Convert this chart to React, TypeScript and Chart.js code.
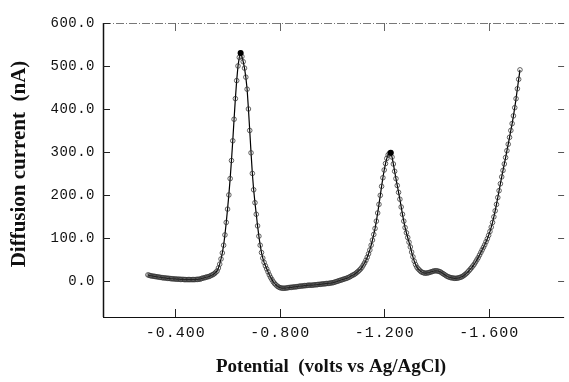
import React, { useEffect, useRef } from "react";
import { Chart, registerables } from "chart.js";

Chart.register(...registerables);

// Potential (V vs Ag/AgCl), 5 mV steps
const potentials = [
  -0.295, -0.300, -0.305, -0.310, -0.315, -0.320, -0.325, -0.330, -0.335, -0.340,
  -0.345, -0.350, -0.355, -0.360, -0.365, -0.370, -0.375, -0.380, -0.385, -0.390,
  -0.395, -0.400, -0.405, -0.410, -0.415, -0.420, -0.425, -0.430, -0.435, -0.440,
  -0.445, -0.450, -0.455, -0.460, -0.465, -0.470, -0.475, -0.480, -0.485, -0.490,
  -0.495, -0.500, -0.505, -0.510, -0.515, -0.520, -0.525, -0.530, -0.535, -0.540,
  -0.545, -0.550, -0.555, -0.560, -0.565, -0.570, -0.575, -0.580, -0.585, -0.590,
  -0.595, -0.600, -0.605, -0.610, -0.615, -0.620, -0.625, -0.630, -0.635, -0.640,
  -0.645, -0.650, -0.655, -0.660, -0.665, -0.670, -0.675, -0.680, -0.685, -0.690,
  -0.695, -0.700, -0.705, -0.710, -0.715, -0.720, -0.725, -0.730, -0.735, -0.740,
  -0.745, -0.750, -0.755, -0.760, -0.765, -0.770, -0.775, -0.780, -0.785, -0.790,
  -0.795, -0.800, -0.805, -0.810, -0.815, -0.820, -0.825, -0.830, -0.835, -0.840,
  -0.845, -0.850, -0.855, -0.860, -0.865, -0.870, -0.875, -0.880, -0.885, -0.890,
  -0.895, -0.900, -0.905, -0.910, -0.915, -0.920, -0.925, -0.930, -0.935, -0.940,
  -0.945, -0.950, -0.955, -0.960, -0.965, -0.970, -0.975, -0.980, -0.985, -0.990,
  -0.995, -1.000, -1.005, -1.010, -1.015, -1.020, -1.025, -1.030, -1.035, -1.040,
  -1.045, -1.050, -1.055, -1.060, -1.065, -1.070, -1.075, -1.080, -1.085, -1.090,
  -1.095, -1.100, -1.105, -1.110, -1.115, -1.120, -1.125, -1.130, -1.135, -1.140,
  -1.145, -1.150, -1.155, -1.160, -1.165, -1.170, -1.175, -1.180, -1.185, -1.190,
  -1.195, -1.200, -1.205, -1.210, -1.215, -1.220, -1.225, -1.230, -1.235, -1.240,
  -1.245, -1.250, -1.255, -1.260, -1.265, -1.270, -1.275, -1.280, -1.285, -1.290,
  -1.295, -1.300, -1.305, -1.310, -1.315, -1.320, -1.325, -1.330, -1.335, -1.340,
  -1.345, -1.350, -1.355, -1.360, -1.365, -1.370, -1.375, -1.380, -1.385, -1.390,
  -1.395, -1.400, -1.405, -1.410, -1.415, -1.420, -1.425, -1.430, -1.435, -1.440,
  -1.445, -1.450, -1.455, -1.460, -1.465, -1.470, -1.475, -1.480, -1.485, -1.490,
  -1.495, -1.500, -1.505, -1.510, -1.515, -1.520, -1.525, -1.530, -1.535, -1.540,
  -1.545, -1.550, -1.555, -1.560, -1.565, -1.570, -1.575, -1.580, -1.585, -1.590,
  -1.595, -1.600, -1.605, -1.610, -1.615, -1.620, -1.625, -1.630, -1.635, -1.640,
  -1.645, -1.650, -1.655, -1.660, -1.665, -1.670, -1.675, -1.680, -1.685, -1.690,
  -1.695, -1.700, -1.705, -1.710, -1.715, -1.720,
];

// Diffusion current (nA)
const currents = [
  14, 13, 12, 11.5, 11, 10.5, 10, 9.5, 9, 8.5,
  8, 7.5, 7, 7, 6.5, 6, 6, 5.5, 5, 5,
  4.5, 4.5, 4, 4, 4, 3.5, 3.5, 3.5, 3, 3,
  3, 3, 3, 3, 3, 3, 3, 3.5, 3.5, 4,
  4, 5.5, 6.5, 7, 8, 9, 9.5, 10.5, 12, 13.5,
  15, 17, 20, 23, 30, 39, 51, 65, 83, 107,
  136, 167, 200, 238, 280, 326, 376, 424, 466, 500,
  520, 530, 522, 510, 495, 474, 446, 400, 350, 298,
  250, 212, 182, 155, 128, 104, 83, 66, 53, 43,
  35, 28, 21, 14, 8, 3, -2, -6, -9, -12,
  -14, -15.5, -16.5, -17, -17, -17, -16.5, -16, -15.5, -15,
  -15, -14.5, -14, -14, -13.5, -13, -12.5, -12, -12, -11.5,
  -11, -11, -10.5, -10, -10, -10, -10, -9.5, -9, -9,
  -8.5, -8, -8, -7.5, -7, -7, -6.5, -6, -6, -5.5,
  -5, -4.5, -4, -3, -2, -1, 0, 1, 2, 3,
  4, 5, 6, 7, 8.5, 10, 12, 13.5, 15, 17,
  19.5, 22, 25, 28, 32, 37, 42, 48, 55, 63,
  72, 83, 95, 108, 122, 139, 158, 178, 199, 220,
  240, 258, 273, 285, 293, 297, 298, 288, 272, 255,
  238, 222, 206, 190, 172, 155, 139, 124, 112, 101,
  90, 79, 67, 56, 46, 38, 32, 28, 25, 22,
  20, 19, 18, 18, 18.5, 19, 20, 21, 22, 23,
  23.5, 23.5, 23, 22, 21, 19, 17, 15, 13, 11,
  9.5, 8.5, 7.5, 7, 6.5, 6, 6, 6.5, 7, 8,
  9, 10.5, 12.5, 15, 17.5, 20.5, 24, 27.5, 31, 35,
  39, 44, 49, 54, 60, 66, 72, 78, 84, 91,
  98, 106, 115, 125, 136, 149, 163, 178, 194, 210,
  226, 242, 257, 272, 287, 303, 318, 334, 350, 366,
  384, 403, 424, 447, 469, 491,
];

const peakPotentials = [-0.65, -1.225];
const peakCurrents = [530, 298];

const xTickValues = [-0.4, -0.8, -1.2, -1.6];
const xTickLabels = ["-0.400", "-0.800", "-1.200", "-1.600"];
const yTickValues = [0, 100, 200, 300, 400, 500, 600];
const yTickLabels = ["0.0", "100.0", "200.0", "300.0", "400.0", "500.0", "600.0"];

const xTitle = "Potential  (volts vs Ag/AgCl)";
const yTitle = "Diffusion current  (nA)";

const framePlugin = {
  id: "frame",
  beforeDatasetsDraw(chart: any) {
    const { ctx, chartArea } = chart;
    const { left, right, top, bottom } = chartArea;
    const xs = chart.scales.x;
    const ys = chart.scales.y;
    ctx.save();
    // top dash-dot border
    ctx.strokeStyle = "#777";
    ctx.lineWidth = 1;
    ctx.setLineDash([8, 2, 1, 2]);
    ctx.beginPath();
    ctx.moveTo(left, top + 0.5);
    ctx.lineTo(right, top + 0.5);
    ctx.stroke();
    ctx.setLineDash([]);
    // left axis
    ctx.strokeStyle = "#111";
    ctx.lineWidth = 1.5;
    ctx.beginPath();
    ctx.moveTo(left + 0.5, top);
    ctx.lineTo(left + 0.5, bottom);
    ctx.stroke();
    // bottom axis
    ctx.lineWidth = 1.2;
    ctx.beginPath();
    ctx.moveTo(left, bottom + 0.5);
    ctx.lineTo(right, bottom + 0.5);
    ctx.stroke();
    // y ticks (left inside, right inside)
    ctx.lineWidth = 1;
    yTickValues.forEach((v) => {
      const py = Math.round(ys.getPixelForValue(v)) + 0.5;
      ctx.strokeStyle = "#222";
      ctx.beginPath();
      ctx.moveTo(left, py);
      ctx.lineTo(left + 7, py);
      ctx.stroke();
      ctx.strokeStyle = "#555";
      ctx.beginPath();
      ctx.moveTo(right - 6, py);
      ctx.lineTo(right, py);
      ctx.stroke();
    });
    // x ticks (bottom inside, top inside)
    xTickValues.forEach((v) => {
      const px = Math.round(xs.getPixelForValue(v)) + 0.5;
      ctx.strokeStyle = "#222";
      ctx.beginPath();
      ctx.moveTo(px, bottom);
      ctx.lineTo(px, bottom - 8);
      ctx.stroke();
      ctx.strokeStyle = "#666";
      ctx.beginPath();
      ctx.moveTo(px, top);
      ctx.lineTo(px, top + 8);
      ctx.stroke();
    });
    ctx.restore();
  },
  afterDraw(chart: any) {
    const { ctx, chartArea } = chart;
    const { left, bottom } = chartArea;
    const xs = chart.scales.x;
    const ys = chart.scales.y;
    ctx.save();
    ctx.fillStyle = "#111";
    ctx.textBaseline = "middle";
    // y tick labels
    ctx.font = "14px 'Liberation Mono', 'DejaVu Sans Mono', monospace";
    (ctx as any).letterSpacing = "0.5px";
    ctx.textAlign = "right";
    yTickValues.forEach((v, i) => {
      ctx.fillText(yTickLabels[i], left - 8, ys.getPixelForValue(v));
    });
    // x tick labels
    ctx.font = "15px 'Liberation Mono', 'DejaVu Sans Mono', monospace";
    (ctx as any).letterSpacing = "1px";
    ctx.textAlign = "center";
    xTickValues.forEach((v, i) => {
      ctx.fillText(xTickLabels[i], xs.getPixelForValue(v) + 0.5, bottom + 16);
    });
    (ctx as any).letterSpacing = "0px";
    // axis titles
    ctx.fillStyle = "#111";
    ctx.font = "bold 19px 'Liberation Serif', 'Times New Roman', serif";
    ctx.textAlign = "center";
    ctx.fillText(xTitle, 331, 367);
    ctx.save();
    ctx.translate(20, 164);
    ctx.rotate(-Math.PI / 2);
    ctx.font = "bold 21px 'Liberation Serif', 'Times New Roman', serif";
    ctx.fillText(yTitle, 0, 0);
    ctx.restore();
    ctx.restore();
  },
};

export default function App() {
  const canvasRef = useRef<HTMLCanvasElement | null>(null);

  useEffect(() => {
    const canvas = canvasRef.current;
    if (!canvas) return;
    const chart = new Chart(canvas, {
      type: "line",
      data: {
        datasets: [
          {
            label: "peaks",
            data: peakPotentials.map((p, i) => ({ x: p, y: peakCurrents[i] })),
            showLine: false,
            pointRadius: 3,
            pointBackgroundColor: "#000",
            pointBorderColor: "#000",
            pointBorderWidth: 0,
            order: 0,
          },
          {
            label: "current",
            data: potentials.map((p, i) => ({ x: p, y: currents[i] })),
            borderColor: "#000",
            borderWidth: 1.2,
            tension: 0,
            pointStyle: "circle",
            pointRadius: 2.3,
            pointBorderWidth: 0.9,
            pointBorderColor: "rgba(50,50,50,0.85)",
            pointBackgroundColor: "rgba(255,255,255,0)",
            order: 1,
          },
        ],
      },
      options: {
        responsive: false,
        animation: false,
        maintainAspectRatio: false,
        layout: { padding: { left: 103, top: 23, right: 1, bottom: 65 } },
        plugins: { legend: { display: false }, tooltip: { enabled: false } },
        scales: {
          x: {
            type: "linear",
            display: false,
            min: -1.889,
            max: -0.123,
            reverse: true,
          },
          y: {
            type: "linear",
            display: false,
            min: -84,
            max: 600,
          },
        },
      },
      plugins: [framePlugin],
    });
    return () => chart.destroy();
  }, []);

  return (
    <div style={{ position: "absolute", left: 0, top: 0, width: 569, height: 382, background: "#fff" }}>
      <canvas ref={canvasRef} width={569} height={382} style={{ display: "block" }} />
    </div>
  );
}
